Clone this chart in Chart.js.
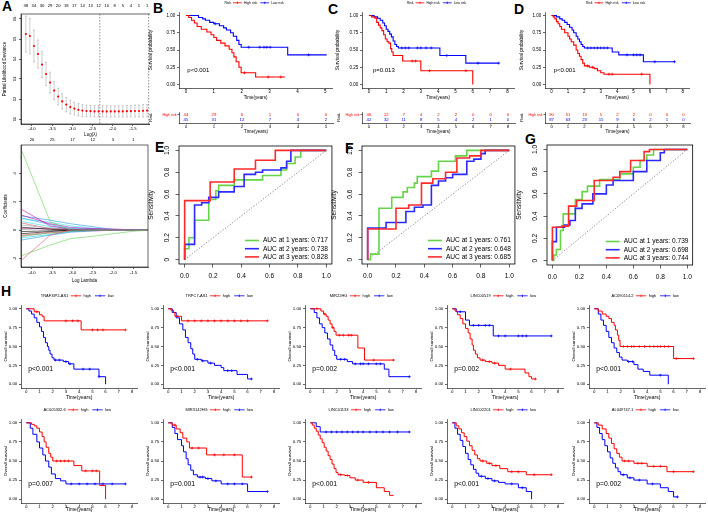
<!DOCTYPE html>
<html>
<head>
<meta charset="utf-8">
<title>Risk model figure</title>
<script src="https://cdn.jsdelivr.net/npm/chart.js@4.4.1/dist/chart.umd.min.js"></script>
<style>
  html, body { margin: 0; padding: 0; background: #fff; }
  body { position: relative; width: 708px; height: 515px; overflow: hidden; font-family: "Liberation Sans", Arial, sans-serif; }
  canvas, .clip { position: absolute; }
  .clip { overflow: hidden; left: 0; top: 0; }
  .tag { position: absolute; font-weight: bold; font-size: 14px; line-height: 14px; color: #000; }
</style>
</head>
<body>
<div class="tag" style="left:2px;top:-1px">A</div>
<div class="tag" style="left:153px;top:1px">B</div>
<div class="tag" style="left:328px;top:2px">C</div>
<div class="tag" style="left:514px;top:2px">D</div>
<div class="tag" style="left:155px;top:140px">E</div>
<div class="tag" style="left:345px;top:141px">F</div>
<div class="tag" style="left:525px;top:132px">G</div>
<div class="tag" style="left:1px;top:284px">H</div>
<script>
// ---------- A: cross-validation curve ----------
const cvLogLambda = [-4.15,-4.05,-3.95,-3.85,-3.75,-3.65,-3.55,-3.45,-3.35,-3.25,-3.15,-3.05,-2.95,-2.85,-2.75,-2.65,-2.55,-2.45,-2.35,-2.25,-2.15,-2.05,-1.95,-1.85,-1.75,-1.65,-1.55,-1.45,-1.35,-1.25,-1.15];
const cvMean = [15.25,15.15,14.65,14.25,13.72,13.25,12.82,12.42,12.12,11.88,11.72,11.6,11.52,11.46,11.42,11.4,11.39,11.38,11.38,11.38,11.38,11.38,11.38,11.38,11.38,11.39,11.39,11.4,11.4,11.41,11.42];
const cvSd = [0.9,0.88,0.8,0.7,0.65,0.58,0.52,0.46,0.42,0.39,0.36,0.34,0.32,0.31,0.3,0.29,0.28,0.28,0.28,0.28,0.28,0.28,0.28,0.28,0.28,0.29,0.29,0.3,0.3,0.31,0.31];
const cvNzero = [38,34,30,29,20,18,17,14,13,12,10,8,5,4,1,1];
const cvLambdaLines = [-2.32,-1.11];
const lambdaTicks = [-4.0,-3.5,-3.0,-2.5,-2.0,-1.5];
const cvTicksY = [11,12,13,14,15,16];

// ---------- A: lasso coefficient paths ----------
const lassoLogLambda = [-4.25,-3.55,-3.05,-2.45,-2.0,-1.5,-1.14];
const lassoPaths = [
  [5.6,0.6,0,0,0,0,0],
  [-2.1,-0.35,0,0,0,0,0],
  [-1.8,-1.05,-0.6,-0.42,-0.25,-0.08,0],
  [1.45,0.3,0.05,0,0,0,0],
  [1.05,0.45,0.2,0.1,0.02,0,0],
  [1.0,0.7,0.45,0.22,0.05,0,0],
  [0.8,0.55,0.3,0.12,0,0,0],
  [0.85,0.4,0.1,0,0,0,0],
  [-0.7,-0.35,-0.15,-0.05,0,0,0],
  [-0.55,-0.3,-0.1,0,0,0,0],
  [0.2,0.05,0,0,0,0,0],
  [-0.1,-0.05,0,0,0,0,0],
  [0.35,0.15,0.05,0,0,0,0],
  [0.5,0.1,0,0,0,0,0],
  [-0.35,-0.15,-0.1,-0.05,0,0,0],
  [0.6,0.25,0.15,0.05,0,0,0],
  [0.1,0.1,0.05,0.12,0.08,0.02,0],
  [-0.25,-0.1,0,0,0,0,0],
  [-0.4,-0.2,-0.1,0,0,0,0],
  [0.05,0.15,0.08,0.05,0.03,0.02,0.02],
  [-0.45,-0.2,-0.05,0,0,0,0]
];
const lassoNzero = [26,25,17,12,5,1];
const lassoTicksY = [-2,0,2,4];

// ---------- B, C, D: Kaplan-Meier by risk group ----------
const bHigh = [[0,1],[0.1,0.97],[0.2,0.93],[0.3,0.89],[0.4,0.84],[0.55,0.8],[0.75,0.76],[0.9,0.72],[1.0,0.68],[1.1,0.64],[1.25,0.6],[1.4,0.56],[1.55,0.51],[1.65,0.46],[1.72,0.4],[1.8,0.33],[1.9,0.25],[1.98,0.17],[2.5,0.11],[3.55,0.11]];
const bHighCens = [2.1,2.95,3.4];
const bLow = [[0,1],[0.45,0.97],[0.6,0.95],[0.7,0.93],[0.85,0.9],[1.0,0.88],[1.2,0.85],[1.35,0.82],[1.45,0.79],[1.6,0.75],[1.7,0.7],[1.82,0.64],[1.9,0.58],[1.98,0.54],[3.65,0.43],[5.05,0.43]];
const bLowCens = [1.05,2.25,2.65,2.8,2.9,3.02,4.4];
const bRiskHigh = [44,29,6,1,0,0];
const bRiskLow = [45,31,12,7,4,2];

const cHigh = [[0,1],[0.15,0.98],[0.35,0.96],[0.45,0.9],[0.55,0.86],[0.65,0.82],[0.75,0.78],[0.85,0.72],[0.95,0.66],[1.05,0.62],[1.15,0.6],[1.25,0.52],[1.32,0.47],[1.4,0.42],[1.95,0.34],[3.0,0.2],[6.0,0]];
const cHighCens = [2.5,2.7,3.5,5.6];
const cLow = [[0,1],[0.3,0.98],[0.5,0.96],[0.65,0.93],[0.8,0.89],[0.9,0.85],[1.0,0.8],[1.1,0.77],[1.2,0.73],[1.3,0.69],[1.4,0.63],[1.5,0.58],[1.6,0.55],[1.7,0.53],[4.1,0.42],[5.6,0.31],[7.5,0.31]];
const cLowCens = [1.9,2.1,2.3,2.8,3.0,3.3,3.6,4.5,6.3,7.5];
const cRiskHigh = [46,22,7,4,2,2,0,0,0];
const cRiskLow = [42,32,11,8,5,4,2,1,0];

const dHigh = [[0,1],[0.1,0.98],[0.2,0.95],[0.3,0.91],[0.4,0.88],[0.5,0.84],[0.6,0.8],[0.8,0.75],[1.0,0.7],[1.1,0.66],[1.2,0.62],[1.35,0.57],[1.5,0.5],[1.6,0.45],[1.7,0.41],[1.8,0.36],[1.9,0.31],[2.0,0.27],[2.3,0.25],[2.6,0.23],[2.8,0.2],[3.0,0.17],[3.2,0.15],[6.0,0]];
const dHighCens = [2.2,2.5,3.5,3.7,5.5];
const dLow = [[0,1],[0.3,0.98],[0.5,0.95],[0.65,0.93],[0.8,0.9],[0.95,0.87],[1.1,0.83],[1.25,0.79],[1.35,0.75],[1.5,0.7],[1.6,0.66],[1.7,0.62],[1.8,0.58],[1.9,0.55],[2.0,0.53],[3.7,0.47],[4.1,0.43],[5.6,0.33],[7.5,0.33]];
const dLowCens = [2.2,2.4,2.6,2.8,3.0,3.2,3.4,4.6,5.0,5.2,5.4,6.3,7.5];
const dRiskHigh = [90,51,13,5,2,2,0,0,0];
const dRiskLow = [87,63,23,15,9,6,2,1,0];

const kmYTicks = [0,0.25,0.5,0.75,1];
const years5 = [0,1,2,3,4,5];
const years8 = [0,1,2,3,4,5,6,7,8];

// ---------- E, F, G: time-dependent ROC ----------
const rocTicks = [0,0.2,0.4,0.6,0.8,1];
const rocDiag = [[0,0],[1,1]];
const eGreen = [[0,0],[0,0.1],[0.03,0.2],[0.07,0.36],[0.17,0.55],[0.22,0.63],[0.24,0.68],[0.35,0.73],[0.55,0.77],[0.68,0.82],[0.72,0.88],[0.78,0.94],[0.82,1],[1,1]];
const eBlue = [[0,0],[0,0.14],[0.07,0.5],[0.12,0.52],[0.17,0.57],[0.24,0.62],[0.35,0.67],[0.42,0.78],[0.5,0.8],[0.55,0.82],[0.68,0.84],[0.72,0.9],[0.75,1],[1,1]];
const eRed = [[0,0],[0,0.54],[0.18,0.71],[0.35,0.83],[0.5,0.91],[0.64,1],[1,1]];
const eAuc = ['0.717','0.738','0.828'];
const fGreen = [[0,0],[0.02,0.05],[0.08,0.47],[0.17,0.57],[0.25,0.62],[0.28,0.66],[0.33,0.7],[0.35,0.76],[0.45,0.81],[0.5,0.9],[0.62,0.95],[0.7,1],[1,1]];
const fBlue = [[0,0],[0,0.29],[0.13,0.34],[0.27,0.44],[0.33,0.48],[0.39,0.5],[0.45,0.68],[0.5,0.72],[0.55,0.75],[0.6,0.78],[0.7,0.9],[0.75,0.92],[0.8,0.97],[0.83,1],[1,1]];
const fRed = [[0,0],[0,0.28],[0.2,0.47],[0.29,0.5],[0.38,0.7],[0.46,0.74],[0.55,0.8],[0.63,0.93],[0.72,0.95],[0.8,1],[1,1]];
const fAuc = ['0.761','0.648','0.685'];
const gGreen = [[0,0],[0.01,0.05],[0.03,0.1],[0.06,0.27],[0.08,0.42],[0.17,0.55],[0.22,0.62],[0.26,0.67],[0.35,0.73],[0.5,0.78],[0.6,0.84],[0.65,0.9],[0.7,0.95],[0.75,1],[1,1]];
const gBlue = [[0,0],[0,0.17],[0.03,0.3],[0.09,0.32],[0.13,0.36],[0.17,0.47],[0.22,0.51],[0.3,0.6],[0.4,0.68],[0.45,0.72],[0.6,0.8],[0.7,0.9],[0.8,0.97],[0.83,1],[1,1]];
const gRed = [[0,0],[0,0.3],[0.07,0.31],[0.12,0.49],[0.18,0.54],[0.31,0.72],[0.45,0.75],[0.5,0.8],[0.58,0.9],[0.68,0.98],[0.72,1],[1,1]];
const gAuc = ['0.739','0.698','0.744'];
const rocYears = [1,2,3];

// ---------- H: survival by lncRNA expression ----------
const hGenes = ['TRAF3IP2-AS1','TRPC7-AS1','MIR22HG','LINC00519','AC090114.2','AC005332.6','MIR3142HG','LINC01133','LINC02201','AL049747.1'];
const hPvals = ['p<0.001','p<0.001','p=0.002','p=0.002','p<0.001','p=0.007','p=0.001','p<0.001','p<0.001','p=0.002'];
const h1High = [[0,1],[0.6,0.96],[1.0,0.92],[1.2,0.9],[1.35,0.84],[4.15,0.72],[7.5,0.72]];
const h1HighCens = [0.8,3.0,3.5,3.9,5.0,5.4,5.8,7.5];
const h1Low = [[0,1],[0.2,0.97],[0.4,0.93],[0.6,0.88],[0.8,0.82],[1.0,0.76],[1.15,0.7],[1.3,0.62],[1.45,0.55],[1.6,0.5],[1.7,0.45],[1.8,0.4],[1.95,0.35],[2.1,0.32],[2.8,0.3],[3.2,0.27],[3.6,0.2],[5.5,0.1],[6.0,0]];
const h1LowCens = [2.2,2.5,3.0,3.3,4.3,4.8,5.5];
const h2High = [[0,1],[0.2,0.98],[0.4,0.95],[0.5,0.9],[1.0,0.84],[7.5,0.84]];
const h2HighCens = [0.7,1.5,2.0,2.5,3.0,3.5,4.0,4.5,5.0,5.5,6.0,7.5];
const h2Low = [[0,1],[0.3,0.95],[0.6,0.88],[0.85,0.8],[1.1,0.72],[1.3,0.62],[1.5,0.55],[1.7,0.47],[1.85,0.4],[2.0,0.33],[2.5,0.31],[3.0,0.28],[3.5,0.25],[4.0,0.22],[4.2,0.18],[5.2,0.13],[6.0,0.07],[6.3,0.07]];
const h2LowCens = [2.2,2.6,3.2,4.5,4.8,6.3];
const h3High = [[0,1],[0.8,0.97],[1.0,0.93],[1.2,0.9],[1.35,0.85],[1.5,0.8],[1.65,0.75],[1.8,0.7],[1.95,0.65],[3.6,0.48],[4.1,0.32],[6.3,0.32]];
const h3HighCens = [0.5,1.1,1.7,2.2,2.5,2.9,3.1,4.8,6.3];
const h3Low = [[0,1],[0.3,0.95],[0.5,0.88],[0.7,0.8],[0.9,0.75],[1.1,0.68],[1.3,0.6],[1.5,0.52],[1.7,0.45],[1.85,0.38],[2.0,0.33],[2.8,0.3],[3.2,0.27],[5.6,0.2],[5.95,0.1],[7.5,0.1]];
const h3LowCens = [2.3,2.6,3.4,3.8,4.0,4.4,5.0,5.3,7.5];
const h4High = [[0,1],[0.2,0.97],[0.4,0.92],[0.6,0.87],[0.8,0.8],[1.0,0.74],[1.2,0.68],[1.35,0.6],[1.5,0.52],[1.6,0.45],[1.75,0.4],[1.9,0.35],[2.1,0.32],[2.5,0.3],[3.0,0.28],[3.5,0.25],[4.0,0.2],[5.5,0.15],[5.8,0.1],[6.0,0.07],[6.3,0.07]];
const h4HighCens = [2.3,2.8,3.2,4.4,6.3];
const h4Low = [[0,1],[0.3,0.96],[1.0,0.85],[1.3,0.78],[3.1,0.64],[7.5,0.64]];
const h4LowCens = [0.6,1.6,2.0,2.5,2.8,3.5,4.0,5.0,5.3,5.6,7.5];
const h5High = [[0,1],[0.3,0.97],[0.6,0.93],[0.9,0.9],[1.1,0.87],[1.3,0.82],[1.5,0.78],[1.6,0.72],[1.75,0.65],[1.85,0.58],[1.95,0.5],[6.0,0.34],[7.5,0.34]];
const h5HighCens = [2.2,2.5,2.8,3.0,3.4,3.8,4.2,4.5,4.8,5.0,5.3,5.6,6.2,7.5];
const h5Low = [[0,1],[0.3,0.93],[0.5,0.85],[0.7,0.78],[0.9,0.7],[1.1,0.62],[1.3,0.55],[1.5,0.48],[1.7,0.42],[1.9,0.36],[2.1,0.32],[2.5,0.3],[3.0,0.26],[3.3,0.2],[3.7,0.17],[4.2,0.12],[5.6,0]];
const h5LowCens = [2.6,2.9,5.0];
const h6High = [[0,1],[0.4,0.98],[0.6,0.96],[0.8,0.93],[1.0,0.88],[1.2,0.82],[1.35,0.75],[1.5,0.68],[1.7,0.6],[1.85,0.55],[2.0,0.5],[3.6,0.44],[4.2,0.37],[5.55,0.18],[6.0,0]];
const h6HighCens = [2.3,2.6,2.9,3.2,4.5,5.0,5.3];
const h6Low = [[0,1],[0.3,0.93],[0.5,0.85],[0.8,0.75],[1.0,0.67],[1.25,0.58],[1.45,0.5],[1.7,0.42],[1.9,0.33],[2.2,0.27],[2.6,0.24],[3.0,0.2],[7.5,0.2]];
const h6LowCens = [3.4,4.0,4.6,5.2,5.8,6.5,7.5];
const h7High = [[0,1],[0.3,0.97],[0.6,0.92],[0.9,0.87],[1.1,0.8],[1.4,0.75],[1.6,0.67],[2.9,0.58],[5.6,0.29],[6.3,0.29]];
const h7HighCens = [0.5,1.8,2.3,3.5,4.2,5.0,6.3];
const h7Low = [[0,1],[0.3,0.94],[0.5,0.86],[0.7,0.78],[1.0,0.7],[1.15,0.62],[1.35,0.53],[1.5,0.45],[1.7,0.38],[1.9,0.32],[2.2,0.29],[2.8,0.27],[3.3,0.24],[4.0,0.2],[6.0,0.1],[7.5,0.1]];
const h7LowCens = [2.4,2.6,3.0,3.6,4.5,5.0,5.6,7.5];
const h8High = [[0,1],[0.15,0.97],[0.3,0.93],[0.45,0.89],[0.6,0.84],[0.75,0.79],[0.9,0.74],[1.05,0.68],[1.2,0.63],[1.35,0.57],[1.5,0.52],[1.65,0.46],[1.8,0.4],[1.95,0.35],[2.1,0.32],[2.6,0.31],[3.0,0.28],[3.4,0.25],[4.0,0.22],[5.0,0.15],[5.6,0.1],[6.0,0.05],[6.3,0.05]];
const h8HighCens = [2.3,2.8,3.6,4.4];
const h8Low = [[0,1],[0.45,0.95],[0.75,0.88],[7.5,0.88]];
const h8LowCens = [1.2,1.6,2.0,2.4,2.8,3.2,3.6,4.0,4.5,5.0,5.5,6.0,6.6,7.5];
const h9High = [[0,1],[0.3,0.96],[0.5,0.92],[0.7,0.87],[0.9,0.82],[1.1,0.76],[1.3,0.7],[1.5,0.64],[1.7,0.58],[1.9,0.53],[2.1,0.5],[2.6,0.47],[3.0,0.44],[3.6,0.4],[4.2,0.36],[5.6,0.32],[7.5,0.32]];
const h9HighCens = [2.3,2.8,3.3,4.5,5.0,6.2,7.5];
const h9Low = [[0,1],[0.2,0.93],[0.4,0.85],[0.6,0.77],[0.8,0.69],[1.0,0.6],[1.2,0.52],[1.4,0.45],[1.6,0.39],[1.8,0.34],[2.0,0.3],[2.5,0.27],[3.0,0.24],[3.5,0.22],[4.0,0.2],[5.0,0.15],[5.6,0.1],[6.0,0]];
const h9LowCens = [2.2,2.7,3.2,4.5,5.3];
const h10High = [[0,1],[0.3,0.97],[0.6,0.92],[0.9,0.86],[1.1,0.8],[1.3,0.73],[1.5,0.66],[1.7,0.6],[1.9,0.55],[2.1,0.5],[3.0,0.47],[4.0,0.43],[5.5,0.36],[7.5,0.36]];
const h10HighCens = [2.3,2.6,3.3,3.6,4.5,5.0,6.0,7.5];
const h10Low = [[0,1],[0.2,0.94],[0.4,0.86],[0.6,0.78],[0.8,0.7],[1.0,0.62],[1.2,0.54],[1.4,0.47],[1.6,0.41],[1.8,0.36],[2.0,0.32],[2.5,0.28],[3.0,0.25],[4.0,0.2],[5.0,0.15],[5.6,0.1],[6.0,0.03],[6.3,0.03]];
const h10LowCens = [2.2,2.7,3.4,4.4,6.3];
const hHigh = [h1High,h2High,h3High,h4High,h5High,h6High,h7High,h8High,h9High,h10High];
const hHighCens = [h1HighCens,h2HighCens,h3HighCens,h4HighCens,h5HighCens,h6HighCens,h7HighCens,h8HighCens,h9HighCens,h10HighCens];
const hLow = [h1Low,h2Low,h3Low,h4Low,h5Low,h6Low,h7Low,h8Low,h9Low,h10Low];
const hLowCens = [h1LowCens,h2LowCens,h3LowCens,h4LowCens,h5LowCens,h6LowCens,h7LowCens,h8LowCens,h9LowCens,h10LowCens];

// ---------- styling ----------
const FAM = '"Liberation Sans", Arial, Helvetica, sans-serif';
const RED = '#FF0000', BLUE = '#0000FF';
const ROC_GREEN = '#66D44A', ROC_BLUE = '#2A2AFF', ROC_RED = '#FF2A2A';
const lassoColors = ['#61D04F','#DF536B','#61D04F','#CD0BBC','#CD0BBC','#2297E6','#28E2E5','#2297E6','#2297E6','#28E2E5','#000000','#000000','#9E9E9E','#DF536B','#DF536B','#28E2E5','#CD0BBC','#000000','#61D04F','#61D04F','#9E9E9E'];
Chart.defaults.font.family = FAM;
Chart.defaults.color = '#000';

const xy = arr => arr.map(p => ({ x: p[0], y: p[1] }));
const fmt0 = v => String(v);
const fmt1 = v => v.toFixed(1);
const fmt2 = v => v.toFixed(2);

function survAt(curve, t) {
  let s = curve[0][1];
  for (const p of curve) if (p[0] <= t) s = p[1];
  return s;
}

function rotText(ctx, txt, x, y) {
  ctx.save();
  ctx.translate(x, y);
  ctx.rotate(-Math.PI / 2);
  ctx.textAlign = 'center';
  ctx.textBaseline = 'middle';
  ctx.fillText(txt, 0, 0);
  ctx.restore();
}

// place a canvas so that the chart area lands exactly on box [x0,y0,x1,y1]
function mount(box, m, config, clipW) {
  const w = box[2] - box[0] + m[0] + m[2];
  const h = box[3] - box[1] + m[1] + m[3];
  const c = document.createElement('canvas');
  c.width = w; c.height = h;
  c.style.width = w + 'px'; c.style.height = h + 'px';
  c.style.left = (box[0] - m[0]) + 'px';
  c.style.top = (box[1] - m[1]) + 'px';
  if (clipW) {
    const d = document.createElement('div');
    d.className = 'clip';
    d.style.width = clipW + 'px';
    d.style.height = '515px';
    d.appendChild(c);
    document.body.appendChild(d);
  } else {
    document.body.appendChild(c);
  }
  const o = config.options;
  o.responsive = false;
  o.animation = false;
  o.devicePixelRatio = 1;
  o.layout = { padding: { left: 0, top: m[1], right: m[2], bottom: 0 } };
  o.scales.x.afterFit = s => { s.height = m[3]; };
  o.scales.y.afterFit = s => { s.width = m[0]; };
  o.plugins = Object.assign({ legend: { display: false }, tooltip: { enabled: false } }, o.plugins || {});
  return new Chart(c, config);
}

function axis(min, max, ticks, fmt, size, tl, pad, title, extra) {
  return Object.assign({
    type: 'linear', min, max,
    afterBuildTicks: s => { s.ticks = ticks.map(v => ({ value: v })); },
    ticks: { autoSkip: false, maxRotation: 0, font: { size }, color: '#000', padding: pad, callback: v => fmt(v) },
    grid: { drawOnChartArea: false, drawTicks: true, tickLength: tl, tickColor: '#000', tickWidth: 0.6 },
    border: { display: true, color: '#000', width: 0.6 },
    title: title || { display: false }
  }, extra || {});
}

function title(text, size, pad) {
  return { display: true, text, font: { size }, padding: pad, color: '#000' };
}

function stepLine(curve, color, lw) {
  return { type: 'line', data: xy(curve), borderColor: color, borderWidth: lw, stepped: 'before', pointRadius: 0, fill: false, tension: 0 };
}

function censorMarks(curve, times, color, r) {
  return { type: 'scatter', data: times.map(t => ({ x: t, y: survAt(curve, t) })), pointStyle: 'cross', pointRadius: r, borderColor: color, borderWidth: 0.7 };
}

// ---------- A top: cross-validation ----------
const cvPlugin = {
  id: 'cv',
  beforeDatasetsDraw(chart) {
    const ctx = chart.ctx, a = chart.chartArea, sx = chart.scales.x, sy = chart.scales.y;
    ctx.save();
    ctx.strokeStyle = '#A9A9A9'; ctx.lineWidth = 0.6;
    cvLogLambda.forEach((l, i) => {
      const x = sx.getPixelForValue(l);
      const y1 = sy.getPixelForValue(cvMean[i] + cvSd[i]), y2 = sy.getPixelForValue(cvMean[i] - cvSd[i]);
      ctx.beginPath();
      ctx.moveTo(x, y1); ctx.lineTo(x, y2);
      ctx.moveTo(x - 1, y1); ctx.lineTo(x + 1, y1);
      ctx.moveTo(x - 1, y2); ctx.lineTo(x + 1, y2);
      ctx.stroke();
    });
    ctx.strokeStyle = '#444'; ctx.setLineDash([1.5, 1.5]);
    cvLambdaLines.forEach(l => {
      const x = sx.getPixelForValue(l);
      ctx.beginPath(); ctx.moveTo(x, a.top); ctx.lineTo(x, a.bottom); ctx.stroke();
    });
    ctx.restore();
  },
  afterDraw(chart) {
    const ctx = chart.ctx, a = chart.chartArea, sx = chart.scales.x, sy = chart.scales.y;
    ctx.save();
    ctx.strokeStyle = '#000'; ctx.lineWidth = 0.6;
    ctx.strokeRect(a.left, a.top, a.right - a.left, a.bottom - a.top);
    ctx.fillStyle = '#000'; ctx.font = '4.2px ' + FAM;
    sy.ticks.forEach(t => rotText(ctx, t.label, a.left - 6, sy.getPixelForValue(t.value)));
    ctx.textAlign = 'center'; ctx.textBaseline = 'middle';
    cvNzero.forEach((n, i) => ctx.fillText(String(n), sx.getPixelForValue(cvLogLambda[i * 2]), a.top - 8));
    ctx.restore();
  }
};

mount([21, 14, 160, 124], [21, 14, 4, 14], {
  type: 'scatter',
  data: { datasets: [{
    data: cvLogLambda.map((l, i) => ({ x: l, y: cvMean[i] })),
    pointStyle: 'circle', pointRadius: 1.1, backgroundColor: RED, borderWidth: 0
  }]},
  options: { scales: {
    x: axis(-4.27, -0.83, lambdaTicks, fmt1, 4.2, 2, 0, title('Log(\u03bb)', 4.5, { top: 0, bottom: 0.3 })),
    y: axis(10.75, 16.25, cvTicksY, fmt0, 4.2, 2, 0, title('Partial Likelihood Deviance', 4.5, { top: 2.3, bottom: 0 }),
      { ticks: { display: false } })
  }},
  plugins: [cvPlugin]
}, 150);

// ---------- A bottom: coefficient paths ----------
const lassoPlugin = {
  id: 'lasso',
  afterDraw(chart) {
    const ctx = chart.ctx, a = chart.chartArea, sx = chart.scales.x, sy = chart.scales.y;
    ctx.save();
    ctx.strokeStyle = '#000'; ctx.lineWidth = 0.6;
    ctx.strokeRect(a.left, a.top, a.right - a.left, a.bottom - a.top);
    ctx.fillStyle = '#000'; ctx.font = '4.2px ' + FAM;
    sy.ticks.forEach(t => rotText(ctx, t.label, a.left - 6, sy.getPixelForValue(t.value)));
    ctx.textAlign = 'center'; ctx.textBaseline = 'middle';
    lassoNzero.forEach((n, i) => ctx.fillText(String(n), sx.getPixelForValue(lambdaTicks[i]), a.top - 5.5));
    ctx.restore();
  }
};

mount([21, 145, 148, 267], [21, 10, 4, 17], {
  type: 'line',
  data: { datasets: lassoPaths.map((p, i) => ({
    data: lassoLogLambda.map((l, j) => ({ x: l, y: p[j] })),
    borderColor: lassoColors[i], borderWidth: 0.6, pointRadius: 0, tension: 0, fill: false
  }))},
  options: { scales: {
    x: axis(-4.27, -1.14, lambdaTicks, fmt1, 4.2, 2, 1.5, title('Log Lambda', 4.5, { top: 0, bottom: 0.3 })),
    y: axis(-2.6, 6.0, lassoTicksY, fmt0, 4.2, 2, 0, title('Coefficients', 4.5, { top: 3.3, bottom: 0 }),
      { ticks: { display: false } })
  }},
  plugins: [lassoPlugin]
});

// ---------- KM helpers ----------
function kmDecor(o) {
  return {
    id: 'kmDecor',
    afterDraw(chart) {
      const ctx = chart.ctx, a = chart.chartArea, sx = chart.scales.x, sy = chart.scales.y;
      ctx.save();
      ctx.font = o.legendSize + 'px ' + FAM;
      ctx.textBaseline = 'middle'; ctx.textAlign = 'left';
      const seg = o.legendSize * 2.6, gap = o.legendSize * 0.6;
      let total = ctx.measureText(o.legendTitle).width + gap;
      o.legendLabels.forEach(l => { total += seg + gap + ctx.measureText(l).width + gap * 1.6; });
      let x = (a.left + a.right) / 2 - total / 2;
      const y = a.top - o.legendDy;
      ctx.fillStyle = '#000';
      ctx.fillText(o.legendTitle, x, y);
      x += ctx.measureText(o.legendTitle).width + gap;
      o.legendLabels.forEach((l, i) => {
        ctx.strokeStyle = [RED, BLUE][i]; ctx.lineWidth = 0.8;
        ctx.beginPath();
        ctx.moveTo(x, y); ctx.lineTo(x + seg, y);
        ctx.moveTo(x + seg / 2, y - 1.2); ctx.lineTo(x + seg / 2, y + 1.2);
        ctx.stroke();
        x += seg + gap;
        ctx.fillText(l, x, y);
        x += ctx.measureText(l).width + gap * 1.6;
      });
      ctx.font = o.pSize + 'px ' + FAM;
      ctx.fillText(o.pText, sx.getPixelForValue(o.pX), sy.getPixelForValue(0.2));
      ctx.restore();
    }
  };
}

function kmChart(box, m, o) {
  const xEnd = o.xTicks[o.xTicks.length - 1];
  return mount(box, m, {
    type: 'line',
    data: { datasets: [
      censorMarks(o.high, o.highCens, RED, o.cr), stepLine(o.high, RED, o.lw),
      censorMarks(o.low, o.lowCens, BLUE, o.cr), stepLine(o.low, BLUE, o.lw)
    ]},
    options: { scales: {
      x: axis(-0.05 * xEnd, 1.05 * xEnd, o.xTicks, fmt0, o.tickSize, 1.5, 0, title('Time(years)', o.titleSize, { top: 0, bottom: o.xTitlePad })),
      y: axis(-0.05, 1.05, kmYTicks, fmt2, o.tickSize, 2, 1.7, title(o.yTitle, o.yTitleSize, { top: o.yTitlePad, bottom: 0 }))
    }},
    plugins: [kmDecor(o)]
  });
}

function riskTable(box, m, xTicks, high, low, titlePad) {
  const xEnd = xTicks[xTicks.length - 1];
  const rows = [high, low];
  return mount(box, m, {
    type: 'scatter',
    data: { datasets: [{ data: [] }] },
    options: { scales: {
      x: axis(-0.05 * xEnd, 1.05 * xEnd, xTicks, fmt0, 4.3, 1.5, 0, title('Time(years)', 4.5, { top: 0, bottom: 0.6 })),
      y: {
        type: 'category', labels: ['High risk', 'Low risk'], offset: true,
        ticks: { font: { size: 3.6 }, color: c => (c.index === 0 ? RED : BLUE), padding: 1 },
        grid: { drawOnChartArea: false, offset: false, tickLength: 1.5, tickColor: '#000', tickWidth: 0.6 },
        border: { display: true, color: '#000', width: 0.6 },
        title: title('Risk', 4.3, { top: titlePad, bottom: 0 })
      }
    }},
    plugins: [{
      id: 'riskNumbers',
      afterDraw(chart) {
        const ctx = chart.ctx, sx = chart.scales.x, sy = chart.scales.y;
        ctx.save();
        ctx.font = '4.3px ' + FAM; ctx.textAlign = 'center'; ctx.textBaseline = 'middle';
        rows.forEach((r, i) => {
          ctx.fillStyle = i === 0 ? RED : BLUE;
          r.forEach((n, j) => ctx.fillText(String(n), sx.getPixelForValue(xTicks[j]), sy.getPixelForValue(i)));
        });
        ctx.restore();
      }
    }]
  });
}

const kmMain = { tickSize: 4.5, titleSize: 4.5, yTitle: 'Survival probability', yTitleSize: 4.8, yTitlePad: 2.1, xTitlePad: 1.3,
  legendTitle: 'Risk', legendLabels: ['High risk', 'Low risk'], legendDy: 9.2, legendSize: 3.4, pSize: 6, lw: 1.1, cr: 1.5 };

kmChart([179, 12, 333, 88], [33, 12, 4, 14], Object.assign({}, kmMain,
  { high: bHigh, highCens: bHighCens, low: bLow, lowCens: bLowCens, xTicks: years5, pText: 'p<0.001', pX: 0.05 }));
riskTable([179, 112, 333, 123], [33, 4, 4, 12], years5, bRiskHigh, bRiskLow, 2.4);

kmChart([362, 12, 515, 88], [29, 12, 4, 14], Object.assign({}, kmMain,
  { high: cHigh, highCens: cHighCens, low: cLow, lowCens: cLowCens, xTicks: years8, pText: 'p=0.013', pX: 0.23 }));
riskTable([362, 112, 515, 123], [29, 4, 4, 12], years8, cRiskHigh, cRiskLow, 2.9);

kmChart([545, 12, 690, 88], [28, 12, 4, 14], Object.assign({}, kmMain,
  { high: dHigh, highCens: dHighCens, low: dLow, lowCens: dLowCens, xTicks: years8, pText: 'p<0.001', pX: 0.13 }));
riskTable([545, 112, 690, 123], [28, 4, 4, 12], years8, dRiskHigh, dRiskLow, 2.4);

// ---------- ROC ----------
function rocChart(box, m, green, blue, red, aucs) {
  const colors = [ROC_GREEN, ROC_BLUE, ROC_RED];
  return mount(box, m, {
    type: 'line',
    data: { datasets: [
      stepLine(red, ROC_RED, 1.6), stepLine(blue, ROC_BLUE, 1.6), stepLine(green, ROC_GREEN, 1.6),
      { data: xy(rocDiag), borderColor: '#555', borderWidth: 0.7, borderDash: [1.2, 1.8], pointRadius: 0, fill: false }
    ]},
    options: { scales: {
      x: axis(-0.04, 1.04, rocTicks, fmt1, 6.6, 3.5, 5, null, { border: { display: false } }),
      y: axis(-0.04, 1.04, rocTicks, fmt1, 6.6, 3.5, 0, title('Sensitivity', 6.6, { top: 1.0, bottom: 0 }),
        { border: { display: false }, ticks: { display: false } })
    }},
    plugins: [{
      id: 'rocDecor',
      afterDraw(chart) {
        const ctx = chart.ctx, a = chart.chartArea, sy = chart.scales.y;
        ctx.save();
        ctx.strokeStyle = '#000'; ctx.lineWidth = 0.8;
        ctx.strokeRect(a.left, a.top, a.right - a.left, a.bottom - a.top);
        ctx.fillStyle = '#000'; ctx.font = '6.6px ' + FAM;
        sy.ticks.forEach(t => rotText(ctx, t.label, a.left - 12, sy.getPixelForValue(t.value)));
        ctx.textAlign = 'left'; ctx.textBaseline = 'middle';
        rocYears.forEach((yr, i) => {
          const y = a.bottom - 23.5 + i * 8.2;
          ctx.strokeStyle = colors[i]; ctx.lineWidth = 1.6;
          ctx.beginPath(); ctx.moveTo(a.right - 87, y); ctx.lineTo(a.right - 73, y); ctx.stroke();
          ctx.fillText('AUC at ' + yr + ' years: ' + aucs[i], a.right - 69, y);
        });
        ctx.restore();
      }
    }]
  });
}

rocChart([179, 146, 332, 264], [33, 6, 4, 18], eGreen, eBlue, eRed, eAuc);
rocChart([362, 146, 515, 264], [33, 6, 4, 18], fGreen, fBlue, fRed, fAuc);
rocChart([547, 145, 693, 265], [33, 5, 4, 18], gGreen, gBlue, gRed, gAuc);

// ---------- H: ten small KM plots ----------
hGenes.forEach((gene, i) => {
  const col = i % 5, row = Math.floor(i / 5);
  const x0 = 21 + 142 * col;
  const box = row === 0 ? [x0, 305, x0 + 119, 388] : [x0, 419, x0 + 119, 503];
  const m = row === 0 ? [19, 13, 2, 13] : [19, 13, 2, 12];
  kmChart(box, m, {
    high: hHigh[i], highCens: hHighCens[i], low: hLow[i], lowCens: hLowCens[i], xTicks: years8,
    tickSize: 4.4, titleSize: 5, yTitle: 'Overall survival', yTitleSize: 4.4, yTitlePad: 1.4,
    xTitlePad: row === 0 ? 0.3 : 2,
    legendTitle: gene, legendLabels: ['high', 'low'], legendDy: 9.2, legendSize: 4,
    pText: hPvals[i], pX: 0.15, pSize: 6.8, lw: 1, cr: 1.4
  });
});
</script>
</body>
</html>
